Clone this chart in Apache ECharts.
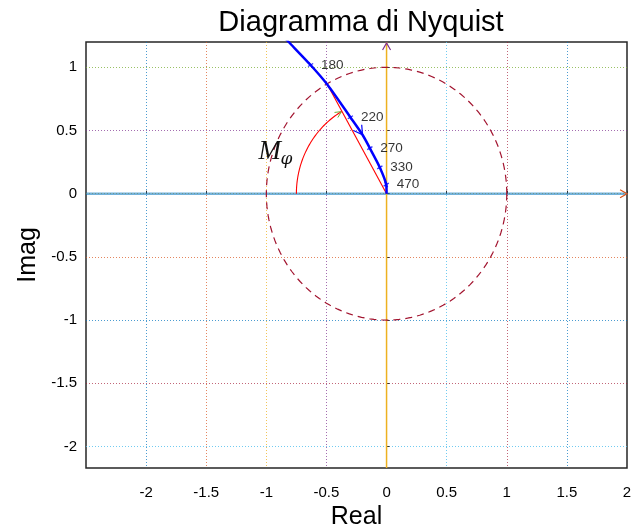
<!DOCTYPE html>
<html><head><meta charset="utf-8">
<script src="https://cdn.jsdelivr.net/npm/echarts@6/dist/echarts.min.js"></script>
<style>html,body{margin:0;padding:0;background:#fff}#c{width:637px;height:529px}</style>
</head><body><div id="c"></div>
<script>
// ---- data ----
const nyquistCurve = [[-0.866,1.252],[-0.816,1.202],[-0.632,1.018],[-0.49,0.86],[-0.301,0.605],[-0.2,0.466],[-0.139,0.36],[-0.056,0.208],[-0.003,0.072],[0,0]];
const freqLabels = ['180','220','270','330','470'];
const freqPoints = [[-0.632,1.018],[-0.301,0.605],[-0.139,0.36],[-0.056,0.208],[-0.003,0.072]];
const crossingPoint = [-0.49, 0.86];
const originPoint = [0, 0];
const circleRadius = 1;
const marginArcRadius = 0.75;
const marginArcDeg = [180, 120];
const curveArrowFrom = [-0.301, 0.605];
const curveArrowTip = [-0.2, 0.466];
const marginLabelPos = [-1.065, 0.33];
const xRange = [-2.5, 2];
const yRange = [-2.17, 1.2];
const tickStep = 0.5;

const C = {blue:'rgba(0,114,189,0.7)', orange:'rgba(217,83,25,0.7)', yellow:'rgba(237,177,32,0.75)', purple:'rgba(126,47,142,0.7)', green:'rgba(119,172,48,0.75)', cyan:'rgba(77,190,238,0.8)', red:'rgba(162,20,47,0.65)', none:'rgba(0,0,0,0)'};
const xGridColors = [C.none, C.blue, C.orange, C.yellow, C.purple, C.green, C.cyan, C.red, C.blue, C.none];
const yGridColors = [C.none, C.cyan, C.red, C.blue, C.orange, C.yellow, C.purple, C.green, C.none];

const chart = echarts.init(document.getElementById('c'));
const FONT = 'Liberation Sans';

function chevron(tip, prev, len, ang) {
  const dx = tip[0]-prev[0], dy = tip[1]-prev[1];
  const n = Math.hypot(dx, dy) || 1;
  const ux = dx/n, uy = dy/n;
  const arm = s => {
    const c = Math.cos(s*ang), si = Math.sin(s*ang);
    const rx = ux*c - uy*si, ry = ux*si + uy*c;
    return [tip[0]-len*rx, tip[1]-len*ry];
  };
  return [arm(1), tip, arm(-1)];
}

function renderAnnot(params, api) {
  const children = [];
  // real axis
  const rA = api.coord([xRange[0], 0]), rB = api.coord([xRange[1], 0]);
  children.push({type:'line', shape:{x1:rA[0],y1:rA[1],x2:rB[0],y2:rB[1]}, style:{stroke:'rgba(0,114,189,0.55)', lineWidth:2.5}});
  children.push({type:'polyline', shape:{points:chevron(rB, rA, 8, Math.PI/6)}, style:{stroke:'#D95319', lineWidth:1.2, fill:null}});
  // imag axis
  const iA = api.coord([0, yRange[0]]), iB = api.coord([0, yRange[1]]);
  children.push({type:'line', shape:{x1:iA[0],y1:iA[1],x2:iB[0],y2:iB[1]}, style:{stroke:'#EDB120', lineWidth:1.5}});
  children.push({type:'polyline', shape:{points:chevron([iB[0], iB[1]+1], iA, 8, Math.PI/6)}, style:{stroke:'#7E2F8E', lineWidth:1.2, fill:null}});
  // unit circle
  const circ = [];
  for (let d = 0; d <= 360; d += 2) {
    const t = d*Math.PI/180;
    circ.push(api.coord([circleRadius*Math.cos(t), circleRadius*Math.sin(t)]));
  }
  children.push({type:'polyline', shape:{points:circ}, style:{stroke:'#A2142F', lineWidth:1.2, lineDash:[7,5], fill:null}});
  // phase margin arc
  const arc = [];
  for (let d = marginArcDeg[0]; d >= marginArcDeg[1]; d -= 1) {
    const t = d*Math.PI/180;
    arc.push(api.coord([marginArcRadius*Math.cos(t), marginArcRadius*Math.sin(t)]));
  }
  children.push({type:'polyline', shape:{points:arc}, style:{stroke:'#FF0000', lineWidth:1.1, fill:null}});
  children.push({type:'polyline', shape:{points:chevron(arc[arc.length-1], arc[arc.length-4], 7, Math.PI/7)}, style:{stroke:'#77AC30', lineWidth:1, fill:null}});
  // curve direction arrow
  children.push({type:'polyline', shape:{points:chevron(api.coord(curveArrowTip), api.coord(curveArrowFrom), 10, Math.PI/6)}, style:{stroke:'#0000FF', lineWidth:1.2, fill:null}, z2:10});
  // M_phi label
  const mp = api.coord(marginLabelPos);
  children.push({type:'text', x:mp[0], y:mp[1], style:{text:'M', fontFamily:'Liberation Serif', fontStyle:'italic', fontSize:27, fill:'#111', align:'left', verticalAlign:'middle'}});
  children.push({type:'text', x:mp[0]+22, y:mp[1]+8, style:{text:'φ', fontFamily:'DejaVu Serif', fontStyle:'italic', fontSize:17, fill:'#111', align:'left', verticalAlign:'middle'}});
  return {type:'group', children};
}

const option = {
  animation: false,
  backgroundColor: '#fff',
  title: {text:'Diagramma di Nyquist', left:356, top:3, textAlign:'center',
    textStyle:{fontFamily:FONT, fontSize:29, fontWeight:'normal', color:'#000'}},
  grid: {left:86, right:10, top:42, bottom:61, show:true, borderColor:'#262626', borderWidth:1.5, containLabel:false, outerBoundsMode:'none'},
  xAxis: {type:'value', min:xRange[0], max:xRange[1], interval:tickStep,
    name:'Real', nameLocation:'middle', nameGap:35,
    nameTextStyle:{fontFamily:FONT, fontSize:25, color:'#000'},
    axisLine:{show:false}, axisTick:{show:true, inside:true, length:3, lineStyle:{color:'#333'}},
    axisLabel:{fontFamily:FONT, fontSize:15, color:'#000', margin:17, showMinLabel:false, showMaxLabel:true},
    splitLine:{show:true, lineStyle:{color:xGridColors, type:[1,2], width:1}}},
  yAxis: {type:'value', min:yRange[0], max:yRange[1], minInterval:tickStep, maxInterval:tickStep,
    name:'Imag', nameLocation:'middle', nameGap:43, nameRotate:90,
    nameTextStyle:{fontFamily:FONT, fontSize:25, color:'#000'},
    axisLine:{show:false}, axisTick:{show:true, inside:true, length:3, lineStyle:{color:'#333'}},
    axisLabel:{fontFamily:FONT, fontSize:15, color:'#000', margin:9, showMinLabel:false, showMaxLabel:false},
    splitLine:{show:true, lineStyle:{color:yGridColors, type:[1,2], width:1}}},
  series: [
    {type:'custom', renderItem:renderAnnot, data:[[0,0]], silent:true, z:2},
    {type:'line', data:[originPoint, crossingPoint], symbol:'none', lineStyle:{color:'#FF0000', width:1.1}, z:3, silent:true},
    {type:'line', data:nyquistCurve, symbol:'none', smooth:0.25, lineStyle:{color:'#0000FF', width:2.5}, z:4, silent:true},
    {type:'scatter', data:freqPoints, symbol:'path://M0,5 L10,5 M5,0 L5,10', symbolSize:6, symbolRotate:30,
      itemStyle:{color:'none', borderColor:'#0000FF', borderWidth:1.3}, z:5, silent:true,
      label:{show:true, position:'right', distance:3, formatter:p => freqLabels[p.dataIndex], fontFamily:FONT, fontSize:13.5, color:'#000'}}
  ]
};
chart.setOption(option);
</script>
</body></html>
